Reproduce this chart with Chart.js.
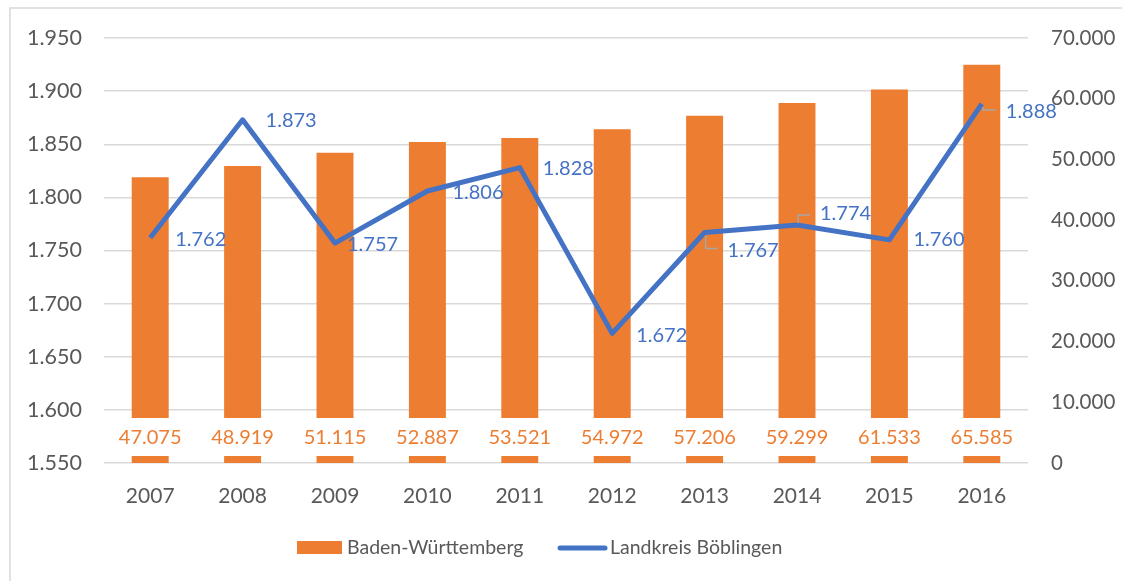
<!DOCTYPE html>
<html>
<head>
<meta charset="utf-8">
<script src="https://cdn.jsdelivr.net/npm/chart.js@4"></script>
<style>
  html, body { margin: 0; padding: 0; background: #fff; }
  #wrap { width: 1122px; height: 581px; }
</style>
</head>
<body>
<div id="wrap"><canvas id="chart"></canvas></div>
<script>
const years = ["2007", "2008", "2009", "2010", "2011", "2012", "2013", "2014", "2015", "2016"];
const bwValues = [47075, 48919, 51115, 52887, 53521, 54972, 57206, 59299, 61533, 65585];
const bbValues = [1762, 1873, 1757, 1806, 1828, 1672, 1767, 1774, 1760, 1888];
const seriesNames = ["Baden-Württemberg", "Landkreis Böblingen"];

// label offsets for the line labels (text left / text middle, relative to point)
const lineLabelOffsets = [
  [25, 2], [23, 1], [12, 1], [25, 2], [23, 1],
  [24, 2], [23, 18], [23, -11], [24, 0], [24, 8],
];
const lineLabelLeader = [false, false, false, false, false, false, true, true, false, true];

const ORANGE = "#ED7D31";
const BLUE = "#4472C4";
const GREY_TEXT = "#595959";
const GRID = "#D9D9D9";
const FONT = "Lato, 'Noto Sans', sans-serif";

const fmt = (v) => {
  return Math.round(v).toString().replace(/\B(?=(\d{3})+(?!\d))/g, ".");
};

const labelsPlugin = {
  id: "labelsPlugin",
  beforeDraw(chart) {
    const ctx = chart.ctx;
    ctx.save();
    ctx.fillStyle = "#fff";
    ctx.fillRect(0, 0, chart.width, chart.height);
    ctx.strokeStyle = GRID;
    ctx.lineWidth = 1.5;
    ctx.strokeRect(10, 8, 1200, 700);
    ctx.restore();
  },
  afterDatasetsDraw(chart) {
    const ctx = chart.ctx;
    const area = chart.chartArea;
    ctx.save();
    ctx.font = "20px " + FONT;
    ctx.textBaseline = "middle";

    // bar labels at bottom, white box
    const barMeta = chart.getDatasetMeta(0);
    barMeta.data.forEach((bar, i) => {
      const txt = fmt(bwValues[i]);
      const w = ctx.measureText(txt).width + 8;
      const cy = area.bottom - 26;
      ctx.fillStyle = "#fff";
      ctx.fillRect(bar.x - w / 2, cy - 19, w, 38);
      ctx.fillStyle = ORANGE;
      ctx.textAlign = "center";
      ctx.fillText(txt, bar.x, cy + 1);
    });

    // line labels
    const lineMeta = chart.getDatasetMeta(1);
    lineMeta.data.forEach((pt, i) => {
      const [dx, dy] = lineLabelOffsets[i];
      const tx = pt.x + dx;
      const ty = pt.y + dy;
      if (lineLabelLeader[i]) {
        ctx.strokeStyle = "#A6A6A6";
        ctx.lineWidth = 1.5;
        ctx.beginPath();
        const sy = dy > 0 ? pt.y + 3 : pt.y - 2;
        const ly = ty - (dy > 0 ? 2 : -1);
        ctx.moveTo(pt.x + 1, sy);
        ctx.lineTo(pt.x + 1, ly);
        ctx.lineTo(tx - 10, ly);
        ctx.stroke();
      }
      ctx.fillStyle = BLUE;
      ctx.textAlign = "left";
      ctx.fillText(fmt(bbValues[i]), tx, ty);
    });
    ctx.restore();
  },
  afterDraw(chart) {
    // legend
    const ctx = chart.ctx;
    ctx.save();
    ctx.font = "19.5px " + FONT;
    ctx.textBaseline = "middle";
    ctx.textAlign = "left";
    const y = 548;
    ctx.fillStyle = ORANGE;
    ctx.fillRect(297, 541, 45, 13);
    ctx.fillStyle = GREY_TEXT;
    ctx.fillText(seriesNames[0], 347, y);
    ctx.strokeStyle = BLUE;
    ctx.lineWidth = 5;
    ctx.lineCap = "round";
    ctx.beginPath();
    ctx.moveTo(560, y);
    ctx.lineTo(605, y);
    ctx.stroke();
    ctx.fillText(seriesNames[1], 610, y);
    ctx.restore();
  },
};

new Chart(document.getElementById("chart"), {
  type: "bar",
  data: {
    labels: years,
    datasets: [
      {
        label: seriesNames[0],
        data: bwValues,
        backgroundColor: ORANGE,
        borderWidth: 0,
        yAxisID: "y2",
        barPercentage: 0.4,
        categoryPercentage: 1,
        order: 2,
      },
      {
        type: "line",
        label: seriesNames[1],
        data: bbValues,
        borderColor: BLUE,
        borderWidth: 5,
        pointRadius: 0,
        borderJoinStyle: "round",
        yAxisID: "y",
        order: 1,
      },
    ],
  },
  options: {
    responsive: true,
    maintainAspectRatio: false,
    animation: false,
    layout: { padding: { left: 10, right: 4, top: 38, bottom: 0 } },
    plugins: {
      legend: { display: false },
      tooltip: { enabled: false },
    },
    scales: {
      x: {
        grid: { display: false },
        border: { display: false },
        ticks: { color: GREY_TEXT, font: { size: 21, family: FONT }, padding: 13 },
        afterFit(scale) { scale.height = 118; },
      },
      y: {
        position: "left",
        min: 1550,
        max: 1950,
        grid: { color: GRID, lineWidth: 1.5, drawTicks: false },
        border: { display: false },
        ticks: {
          stepSize: 50,
          color: GREY_TEXT,
          font: { size: 21.5, family: FONT },
          padding: 22,
          callback: (v) => fmt(v),
        },
        afterFit(scale) { scale.width = 94; },
      },
      y2: {
        position: "right",
        min: 0,
        max: 70000,
        grid: { display: false, drawTicks: false },
        border: { display: false },
        ticks: {
          stepSize: 10000,
          color: GREY_TEXT,
          font: { size: 20.5, family: FONT },
          padding: 23,
          callback: (v) => fmt(v),
        },
        afterFit(scale) { scale.width = 90; },
      },
    },
  },
  plugins: [labelsPlugin],
});
</script>
</body>
</html>
